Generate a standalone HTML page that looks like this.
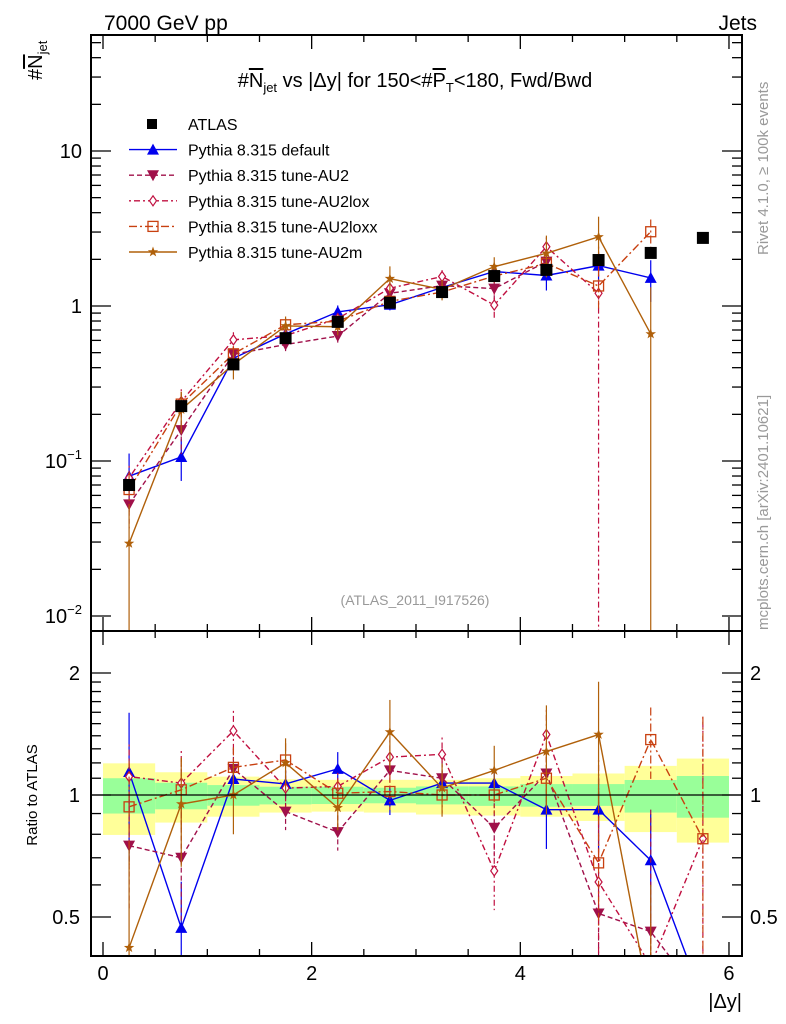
<!DOCTYPE html>
<html><head><meta charset="utf-8"><style>
html,body{margin:0;padding:0;background:#fff;overflow:hidden;width:786px;height:1024px;}
svg{display:block;font-family:"Liberation Sans",sans-serif;}
</style></head><body>
<svg id="chart" width="786" height="1024" viewBox="0 0 786 1024" xmlns="http://www.w3.org/2000/svg">
<defs>
<clipPath id="clipMain"><rect x="91" y="35" width="651" height="596"/></clipPath>
<clipPath id="clipRatio"><rect x="91" y="631" width="651" height="325"/></clipPath>
</defs>
<g id="bands" clip-path="url(#clipRatio)"></g>
<g id="series"></g>
<g id="axes"></g>
<text x="104" y="30" font-size="21">7000 GeV pp</text>
<text x="757" y="30" font-size="21" text-anchor="end">Jets</text>
<text transform="translate(42,80) rotate(-90)" font-size="20">#<tspan text-decoration="overline">N</tspan><tspan font-size="13" dy="5">jet</tspan></text>
<text x="415" y="87" font-size="20" text-anchor="middle">#<tspan text-decoration="overline">N</tspan><tspan font-size="13" dy="5">jet</tspan><tspan dy="-5"> vs |Δy| for 150&lt;#</tspan><tspan text-decoration="overline">P</tspan><tspan font-size="13" dy="5">T</tspan><tspan dy="-5">&lt;180, Fwd/Bwd</tspan></text>
<text x="415" y="605" font-size="14" fill="#999" text-anchor="middle">(ATLAS_2011_I917526)</text>
<text transform="translate(768,255) rotate(-90)" font-size="15" fill="#999">Rivet 4.1.0, ≥ 100k events</text>
<text transform="translate(768,630) rotate(-90)" font-size="15" fill="#999">mcplots.cern.ch [arXiv:2401.10621]</text>
<text transform="translate(37,795) rotate(-90)" font-size="15" text-anchor="middle">Ratio to ATLAS</text>
<text x="742" y="1008" font-size="20" text-anchor="end">|Δy|</text>
<g id="legend"></g>
</svg>
<script>
const NS='http://www.w3.org/2000/svg';
const bins=[0.25,0.75,1.25,1.75,2.25,2.75,3.25,3.75,4.25,4.75,5.25,5.75];
const atlasVals=[0.07,0.226,0.42,0.62,0.79,1.05,1.23,1.56,1.71,1.98,2.2,2.75];
const statUp=[1.10,1.072,1.058,1.048,1.048,1.042,1.05,1.05,1.064,1.064,1.089,1.114];
const statDn=[0.90,0.922,0.941,0.948,0.95,0.954,0.948,0.94,0.936,0.94,0.905,0.879];
const totUp=[1.197,1.138,1.11,1.093,1.09,1.09,1.09,1.10,1.114,1.13,1.18,1.23];
const totDn=[0.797,0.855,0.884,0.905,0.91,0.905,0.895,0.89,0.884,0.863,0.81,0.763];
const ratioDefault=[1.14,0.47,1.095,1.065,1.16,0.97,1.07,1.07,0.92,0.92,0.69,0];
const ratioAU2=[0.75,0.70,1.16,0.91,0.81,1.15,1.10,0.83,1.13,0.51,0.46,0];
const ratioAU2lox=[1.11,1.07,1.44,1.04,1.05,1.24,1.26,0.65,1.41,0.61,0.38,0.78];
const ratioAU2loxx=[0.935,1.03,1.17,1.22,1.01,1.02,1.0,1.0,1.10,0.68,1.37,0.78];
const ratioAU2m=[0.42,0.95,1.0,1.2,0.93,1.43,1.04,1.15,1.28,1.41,0.30,0];
const errDefault=[0.4,0.3,0.1,0.08,0.1,0.08,0.07,0.07,0.2,0.2,0.3,0];
const errAU2=[0.3,0.3,0.12,0.1,0.1,0.1,0.1,0.15,0.15,1.0,1.0,0];
const errAU2lox=[0.2,0.2,0.12,0.1,0.08,0.1,0.1,0.2,0.15,1.0,0.3,1.0];
const errAU2loxx=[0.3,0.2,0.12,0.1,0.08,0.1,0.1,0.1,0.15,0.3,0.2,1.0];
const errAU2m=[0.75,0.3,0.2,0.15,0.12,0.2,0.15,0.15,0.3,0.35,1.0,0];
const mainLastDefault=10, mainLastAU2=8, mainLastAU2lox=9, mainLastAU2loxx=10, mainLastAU2m=10;
const xTicks=[0,2,4,6];
const mainTickLabels=[[10,'10'],[1,'1'],[0.1,'10-1'],[0.01,'10-2']];
const ratioTickLabels=[[2,'2'],[1,'1'],[0.5,'0.5']];

const X=v=>103+v*104.33;
const YM=v=>306-155*Math.log10(v);
const YR=r=>795-122*Math.log2(r);
const svg=document.getElementById('chart');
function mk(tag,attrs,parent){const e=document.createElementNS(NS,tag);for(const k in attrs)e.setAttribute(k,attrs[k]);(parent||svg).appendChild(e);return e;}

const bandG=document.getElementById('bands');
bins.forEach((b,i)=>{
  const x0=X(b-0.25),w=X(b+0.25)-x0;
  const r1=mk('rect',{x:x0,y:YR(totUp[i]),width:w,height:YR(totDn[i])-YR(totUp[i]),fill:'#ffff99'},bandG);
  
  
  const r2=mk('rect',{x:x0,y:YR(statUp[i]),width:w,height:YR(statDn[i])-YR(statUp[i]),fill:'#99ff99'},bandG);
  
  
});
const one=mk('line',{x1:91,x2:742,y1:YR(1),y2:YR(1),stroke:'#000','stroke-width':1.3});



const seriesDefs=[
 {name:'default',label:'Pythia 8.315 default',ratio:ratioDefault,err:errDefault,last:mainLastDefault,color:'#0000ee',dash:'',marker:'tri'},
 {name:'au2',label:'Pythia 8.315 tune-AU2',ratio:ratioAU2,err:errAU2,last:mainLastAU2,color:'#a0104a',dash:'5,3',marker:'tridown'},
 {name:'au2lox',label:'Pythia 8.315 tune-AU2lox',ratio:ratioAU2lox,err:errAU2lox,last:mainLastAU2lox,color:'#c01040',dash:'2,3,6,3',marker:'diamond'},
 {name:'au2loxx',label:'Pythia 8.315 tune-AU2loxx',ratio:ratioAU2loxx,err:errAU2loxx,last:mainLastAU2loxx,color:'#c84010',dash:'8,3,2,3',marker:'square'},
 {name:'au2m',label:'Pythia 8.315 tune-AU2m',ratio:ratioAU2m,err:errAU2m,last:mainLastAU2m,color:'#b0600a',dash:'',marker:'star'}
];
function marker(type,x,y,c,g){
  let e;
  if(type==='tri')e=mk('polygon',{points:`${x},${y-6} ${x-6},${y+5} ${x+6},${y+5}`,fill:c},g);
  else if(type==='tridown')e=mk('polygon',{points:`${x},${y+6} ${x-6},${y-5} ${x+6},${y-5}`,fill:c},g);
  else if(type==='diamond')e=mk('polygon',{points:`${x},${y-5} ${x-3.5},${y} ${x},${y+5} ${x+3.5},${y}`,fill:'#fff',stroke:c,'stroke-width':1.2},g);
  else if(type==='square')e=mk('rect',{x:x-5,y:y-5,width:10,height:10,fill:'none',stroke:c,'stroke-width':1.3},g);
  else if(type==='star'){let p=[];for(let k=0;k<10;k++){const r=k%2?2.2:5.5,a=-Math.PI/2+k*Math.PI/5;p.push((x+r*Math.cos(a)).toFixed(1)+','+(y+r*Math.sin(a)).toFixed(1));}e=mk('polygon',{points:p.join(' '),fill:c},g);}
  else e=mk('rect',{x:x-6,y:y-6,width:12,height:12,fill:'#000'},g);
  return e;
}
const sg=document.getElementById('series');
const gMain=mk('g',{'clip-path':'url(#clipMain)'},sg);


const gRat=mk('g',{'clip-path':'url(#clipRatio)'},sg);



seriesDefs.forEach(s=>{
  const gm=mk('g',{},gMain);
  
  
  const pts=[];
  bins.forEach((b,i)=>{if(i<=s.last&&s.ratio[i]>0){const v=s.ratio[i]*atlasVals[i];pts.push([X(b),YM(v),v,s.err[i]]);}});
  const pl=mk('polyline',{points:pts.map(p=>p[0]+','+p[1]).join(' '),fill:'none',stroke:s.color,'stroke-width':1.4,'stroke-dasharray':s.dash},gm);
  
  
  pts.forEach(p=>{
    const lo=p[2]*(1-p[3]),hi=p[2]*(1+p[3]);
    mk('line',{x1:p[0],x2:p[0],y1:YM(hi),y2:lo>0?YM(lo):640,stroke:s.color,'stroke-width':1.2,'stroke-dasharray':s.dash},gm);
    const m=marker(s.marker,p[0],p[1],s.color,gm);
    
    
  });
  const gr=mk('g',{},gRat);
  
  
  const rp=bins.map((b,i)=>[X(b),s.ratio[i]>0?YR(s.ratio[i]):1000,s.ratio[i],s.err[i]]);
  const rl=mk('polyline',{points:rp.filter((p,i)=>!(i==11&&s.ratio[i]===0&&s.ratio[10]===0)).map(p=>p[0]+','+p[1]).join(' '),fill:'none',stroke:s.color,'stroke-width':1.4,'stroke-dasharray':s.dash},gr);
  
  
  rp.forEach(p=>{
    if(p[2]<=0)return;
    const lo=p[2]*(1-p[3]),hi=p[2]*(1+p[3]);
    mk('line',{x1:p[0],x2:p[0],y1:YR(hi),y2:lo>0?YR(lo):960,stroke:s.color,'stroke-width':1.2,'stroke-dasharray':s.dash},gr);
    const m=marker(s.marker,p[0],p[1],s.color,gr);
    
    
  });
});
const ga=mk('g',{},gMain);


bins.forEach((b,i)=>{
  const m=marker('data',X(b),YM(atlasVals[i]),'#000',ga);
  
  
});

const ax=document.getElementById('axes');
mk('rect',{x:91,y:35,width:651,height:596,fill:'none',stroke:'#000','stroke-width':2},ax);
mk('rect',{x:91,y:631,width:651,height:325,fill:'none',stroke:'#000','stroke-width':2},ax);
for(let v=0;v<=6.01;v+=0.5){
  const x=X(v),L=(Math.abs(v-Math.round(v/2)*2)<0.01)?14:7;
  [[35,1],[631,-1],[631,1],[956,-1]].forEach(([y,d])=>mk('line',{x1:x,x2:x,y1:y,y2:y+d*L,stroke:'#000','stroke-width':1.3},ax));
}
xTicks.forEach(v=>{const t=mk('text',{x:X(v),y:980,'font-size':20,'text-anchor':'middle'},ax);t.textContent=v;

});
for(let d=-2;d<=1;d++){for(let k=1;k<=9;k++){const v=k*Math.pow(10,d),y=YM(v);if(y<35||y>631)continue;const L=k==1?20:10;
  mk('line',{x1:91,x2:91+L,y1:y,y2:y,stroke:'#000','stroke-width':1.3},ax);
  mk('line',{x1:742,x2:742-L,y1:y,y2:y,stroke:'#000','stroke-width':1.3},ax);}}
mainTickLabels.forEach(([v,l])=>{const t=mk('text',{x:82,y:YM(v)+7,'font-size':20,'text-anchor':'end'},ax);
  if(l.length>2){t.textContent='10';const s=mk('tspan',{'font-size':13,dy:-9},t);s.textContent=l.slice(2).replace('-','−');}else t.textContent=l;
  
  });
[0.5,0.6,0.7,0.8,0.9,1,1.1,1.2,1.3,1.4,1.5,1.6,1.7,1.8,1.9,2].forEach(v=>{const y=YR(v);const L=(v==0.5||v==1||v==2)?20:10;
  mk('line',{x1:91,x2:91+L,y1:y,y2:y,stroke:'#000','stroke-width':1.3},ax);
  mk('line',{x1:742,x2:742-L,y1:y,y2:y,stroke:'#000','stroke-width':1.3},ax);});
ratioTickLabels.forEach(([v,l])=>{[[80,'end'],[750,'start']].forEach(([x,a])=>{const t=mk('text',{x:x,y:YR(v)+7,'font-size':20,'text-anchor':a},ax);t.textContent=l;
  
  });});

const lg=document.getElementById('legend');
const rows=[{label:'ATLAS',marker:'data',color:'#000',dash:'',line:false}].concat(seriesDefs.map(s=>({label:s.label,marker:s.marker,color:s.color,dash:s.dash,line:true})));
rows.forEach((r,i)=>{
  const y=124+i*25.6;
  const g=mk('g',{},lg);
  
  
  if(r.line)mk('line',{x1:129,x2:177,y1:y,y2:y,stroke:r.color,'stroke-width':1.4,'stroke-dasharray':r.dash},g);
  if(r.marker==='data')mk('rect',{x:147,y:y-5,width:10,height:10,fill:'#000'},g);else marker(r.marker,153,y,r.color,g);
  const t=mk('text',{x:188,y:y+6,'font-size':16},g);t.textContent=r.label;
});
</script>
</body></html>
